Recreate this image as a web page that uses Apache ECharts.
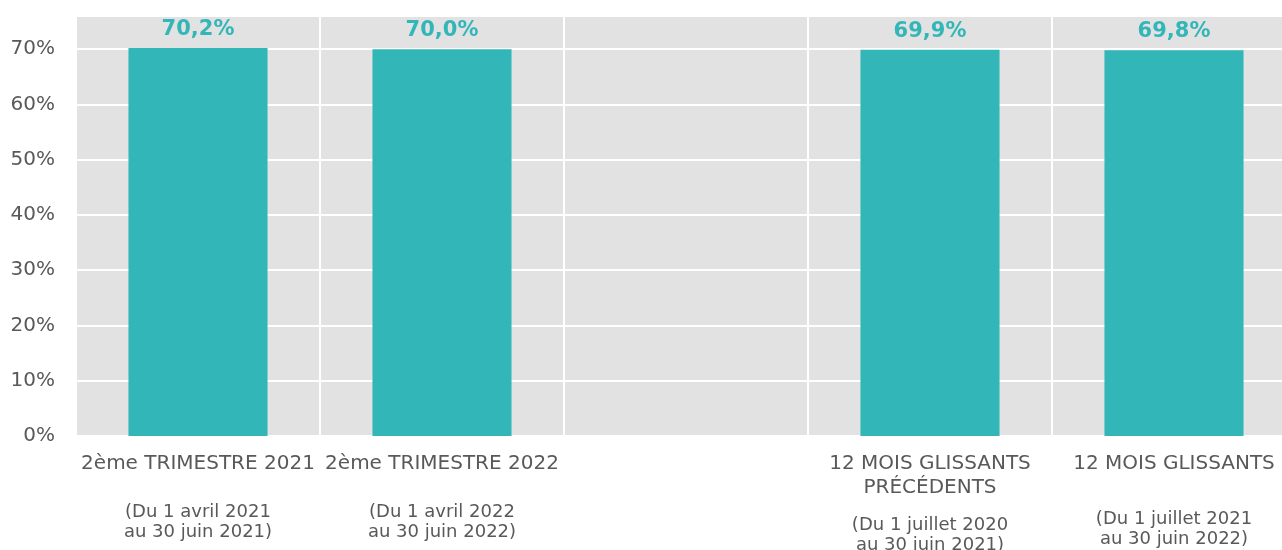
<!DOCTYPE html>
<html>
<head>
<meta charset="utf-8">
<script src="https://cdn.jsdelivr.net/npm/echarts@6/dist/echarts.min.js"></script>
<style>
html,body{margin:0;padding:0;background:#fff;overflow:hidden;}
#c{width:1296px;height:550px;}
</style>
</head>
<body>
<div id="c"></div>
<script>
const categories = ['2ème TRIMESTRE 2021', '2ème TRIMESTRE 2022', '', '12 MOIS GLISSANTS\nPRÉCÉDENTS', '12 MOIS GLISSANTS'];
const subtitles = [
  '(Du 1 avril 2021\nau 30 juin 2021)',
  '(Du 1 avril 2022\nau 30 juin 2022)',
  '',
  '(Du 1 juillet 2020\nau 30 juin 2021)',
  '(Du 1 juillet 2021\nau 30 juin 2022)'
];
const gapStyles = ['g1', 'g1', 'g1', 'g2', 'g3'];
const values = [0.702, 0.700, null, 0.699, 0.698];
const yTicks = [0, 0.1, 0.2, 0.3, 0.4, 0.5, 0.6, 0.7];

const teal = '#33b6b8';
const font = '"DejaVu Sans", Verdana, sans-serif';

const chart = echarts.init(document.getElementById('c'));
chart.setOption({
  animation: false,
  grid: {
    left: 76, right: 0, top: 16, bottom: 114,
    outerBoundsMode: 'none',
    containLabel: false,
    show: true, backgroundColor: '#e2e2e2', borderWidth: 0
  },
  xAxis: {
    type: 'category',
    data: categories,
    axisLine: {show: false},
    axisTick: {show: false},
    splitLine: {show: true, interval: 0, lineStyle: {color: '#ffffff', width: 2}},
    axisLabel: {
      interval: 0,
      margin: 16,
      formatter: function (v, i) {
        if (!v) return '';
        const main = v.split('\n').map(s => '{a|' + s + '}').join('\n');
        const sub = subtitles[i].split('\n').map(s => '{b|' + s + '}').join('\n');
        return main + '\n{' + gapStyles[i] + '|}\n' + sub;
      },
      rich: {
        a: {fontFamily: font, fontSize: 20, color: '#595959', lineHeight: 24, align: 'center'},
        b: {fontFamily: font, fontSize: 18, color: '#595959', lineHeight: 19.5, align: 'center'},
        g1: {lineHeight: 27, height: 27, fontSize: 1},
        g2: {lineHeight: 16, height: 16, fontSize: 1},
        g3: {lineHeight: 34, height: 34, fontSize: 1}
      }
    }
  },
  yAxis: {
    type: 'value',
    min: 0,
    max: 0.76,
    interval: 0.1,
    axisLine: {show: false},
    axisTick: {show: false},
    splitLine: {lineStyle: {color: '#ffffff', width: 2}},
    axisLabel: {
      showMaxLabel: false,
      margin: 21,
      padding: [5, 0, 0, 0],
      fontFamily: font,
      fontSize: 20,
      color: '#595959',
      formatter: function (v) {
        const r = Math.round(v * 10) / 10;
        if (yTicks.indexOf(r) < 0 || Math.abs(v - r) > 1e-6) return '';
        return Math.round(v * 100) + '%';
      }
    }
  },
  series: [{
    type: 'bar',
    data: values,
    barWidth: '57%',
    itemStyle: {color: teal},
    label: {
      show: true,
      position: 'top',
      distance: 8,
      fontFamily: font,
      fontSize: 21,
      fontWeight: 'bold',
      color: teal,
      formatter: function (p) {
        if (p.value == null) return '';
        return (p.value * 100).toFixed(1).replace('.', ',') + '%';
      }
    }
  }]
});
</script>
</body>
</html>
